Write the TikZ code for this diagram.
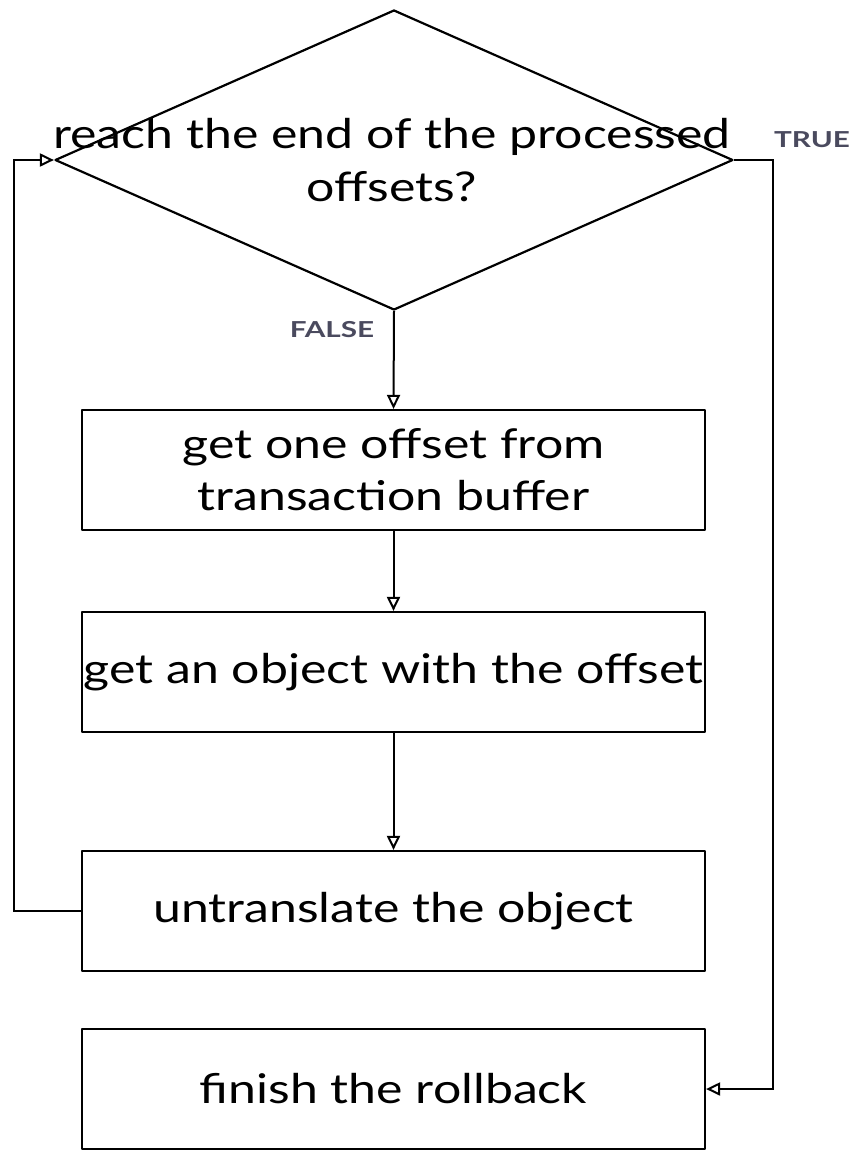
\documentclass[tikz,border=0pt]{standalone}
\usepackage{fontspec}
\setmainfont{Lato}
\newfontfamily\handfont[FakeStretch=1.22]{Lato}
\newfontfamily\tagfont[FakeStretch=1.35]{Lato}
\usetikzlibrary{shapes.geometric,arrows.meta}
\definecolor{labelgrey}{HTML}{4A4A5E}
\tikzset{
  sketch/.style={draw=black, line width=2.2pt, line join=round},
  stepbox/.style={sketch, rectangle, minimum width=623pt, minimum height=120pt,
    inner sep=0pt, align=center, font=\handfont\fontsize{41}{52}\selectfont},
  flow/.style={black, line width=2pt, -{Triangle[open, length=14pt, width=13pt]}},
  branch/.style={text=labelgrey, font=\tagfont\fontsize{22}{26}\selectfont\bfseries}
}
\begin{document}
\begin{tikzpicture}[x=1pt, y=-1pt]
  \useasboundingbox (0,0) rectangle (851,1152);
  % decision
  \node[sketch, shape=diamond, minimum width=678pt, minimum height=300pt, inner sep=0pt] (dec) at (394,160) {};
  \node[align=center, font=\handfont\fontsize{41}{53}\selectfont] (dectext) at (392,160)
    {reach the end of the processed\\offsets?};
  % steps
  \node[stepbox] (get) at (393.5,470) {get one offset from\\transaction buffer};
  \node[stepbox] (obj) at (393.5,672) {get an object with the offset};
  \node[stepbox] (untr) at (393.5,911) {untranslate the object};
  \node[stepbox] (fin) at (393.5,1089) {finish the rollback};
  % branch labels
  \node[branch] (lblfalse) at (332,330) {FALSE};
  \node[branch] (lbltrue) at (812,140) {TRUE};
  % connectors
  \draw[flow] (dec.south) -- (get.north);
  \draw[flow] (get.south) -- (obj.north);
  \draw[flow] (obj.south) -- (untr.north);
  \coordinate (loopA) at (14,911);
  \coordinate (loopB) at (14,160);
  \draw[flow] (untr.west) -- (loopA) -- (loopB) -- (dec.west);
  \coordinate (trueA) at (773,160);
  \coordinate (trueB) at (773,1089);
  \draw[flow] (dec.east) -- (trueA) -- (trueB) -- (fin.east);
\end{tikzpicture}
\end{document}
